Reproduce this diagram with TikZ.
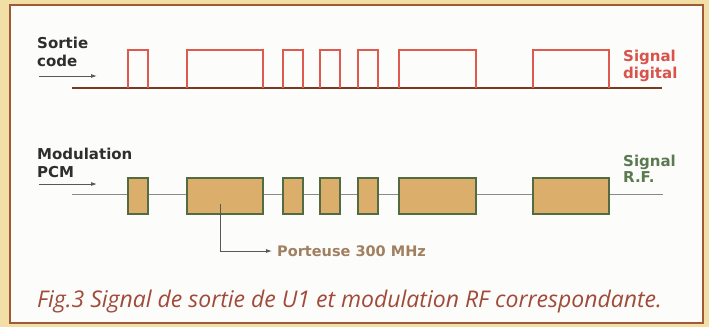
\documentclass[tikz,border=0pt]{standalone}
\usepackage{fontspec}
\setmainfont{DejaVu Sans}
\newfontfamily\capfont{Open Sans}
\usetikzlibrary{arrows.meta}
\definecolor{bgbeige}{HTML}{F2DFA6}
\definecolor{panelborder}{HTML}{A25A35}
\definecolor{panelfill}{HTML}{FCFCFA}
\definecolor{pulsered}{HTML}{DF5A4E}
\definecolor{basebrown}{HTML}{7A3A22}
\definecolor{boxfill}{HTML}{DCAE6C}
\definecolor{boxborder}{HTML}{526B40}
\definecolor{rfline}{HTML}{8A8A8A}
\definecolor{labelblack}{HTML}{2E2E2E}
\definecolor{digred}{HTML}{D9534A}
\definecolor{rfgreen}{HTML}{5C7A52}
\definecolor{porttan}{HTML}{A08060}
\definecolor{captioncol}{HTML}{A04A3A}
\tikzset{
  lbl/.style={anchor=base west, inner sep=0pt, font=\bfseries\fontsize{15}{18}\selectfont},
  rfbox/.style={draw=boxborder, fill=boxfill, line width=2pt, minimum height=36pt, inner sep=0pt},
  pulse/.style={draw=pulsered, line width=1.8pt, line join=miter},
  inarrow/.style={draw=labelblack!80, line width=0.9pt, -{Latex[length=6pt,width=4pt]}},
}
\begin{document}
\begin{tikzpicture}[x=1pt,y=-1pt]
\useasboundingbox (0,0) rectangle (709,327);
\fill[bgbeige] (0,0) rectangle (709,327);
\draw[panelborder, fill=panelfill, line width=2pt] (10,5) rectangle (703,323);

% top digital signal
\coordinate (ds) at (72,88);
\coordinate (de) at (662,88);
\draw[basebrown, line width=1.8pt] (ds) -- (de);
\foreach \a/\b in {128/148,187/263,283/303,320/340,358/378,399/476,533/609}{
  \draw[pulse] (\a,88) -- (\a,50) -- (\b,50) -- (\b,88);
}

% bottom RF signal
\coordinate (rs) at (72,194);
\coordinate (re) at (663,194);
\draw[rfline, line width=1pt] (rs) -- (re);
\foreach \n/\a/\b in {1/128/148,2/187/263,3/283/303,4/320/340,5/358/378,6/399/476,7/533/609}{
  \pgfmathsetmacro{\w}{\b-\a}
  \node[rfbox, minimum width=\w pt] (b\n) at ({(\a+\b)/2},195.5) {};
}

% labels
\node[lbl, text=labelblack] (sortie) at (37,48) {Sortie};
\node[lbl, text=labelblack] (code) at (37,66) {code};
\coordinate (a1s) at (39,76);
\coordinate (a1e) at (97,76);
\draw[inarrow] (a1s) -- (a1e);

\node[lbl, text=labelblack] (modu) at (37,159) {Modulation};
\node[lbl, text=labelblack] (pcm) at (37,177) {PCM};
\coordinate (a2s) at (39,184);
\coordinate (a2e) at (97,184);
\draw[inarrow] (a2s) -- (a2e);

\node[lbl, text=digred] (sig1) at (623,61) {Signal};
\node[lbl, text=digred] (dig) at (623,78) {digital};
\node[lbl, text=rfgreen] (sig2) at (623,166) {Signal};
\node[lbl, text=rfgreen] (rf) at (623,182) {R.F.};

% porteuse
\node[lbl, text=porttan, anchor=west, font=\bfseries\fontsize{14.5}{16}\selectfont] (port) at (277,251) {Porteuse 300 MHz};
\coordinate (pstart) at (220,204);
\draw[labelblack!80, line width=0.9pt, -{Latex[length=6pt,width=4pt]}] (pstart) |- ([xshift=-5pt]port.west);

% caption
\node[anchor=base west, inner sep=0pt, text=captioncol, font=\capfont\itshape\fontsize{23}{26}\selectfont] (cap) at (37,307) {Fig.3 Signal de sortie de U1 et modulation RF correspondante.};
\end{tikzpicture}
\end{document}
